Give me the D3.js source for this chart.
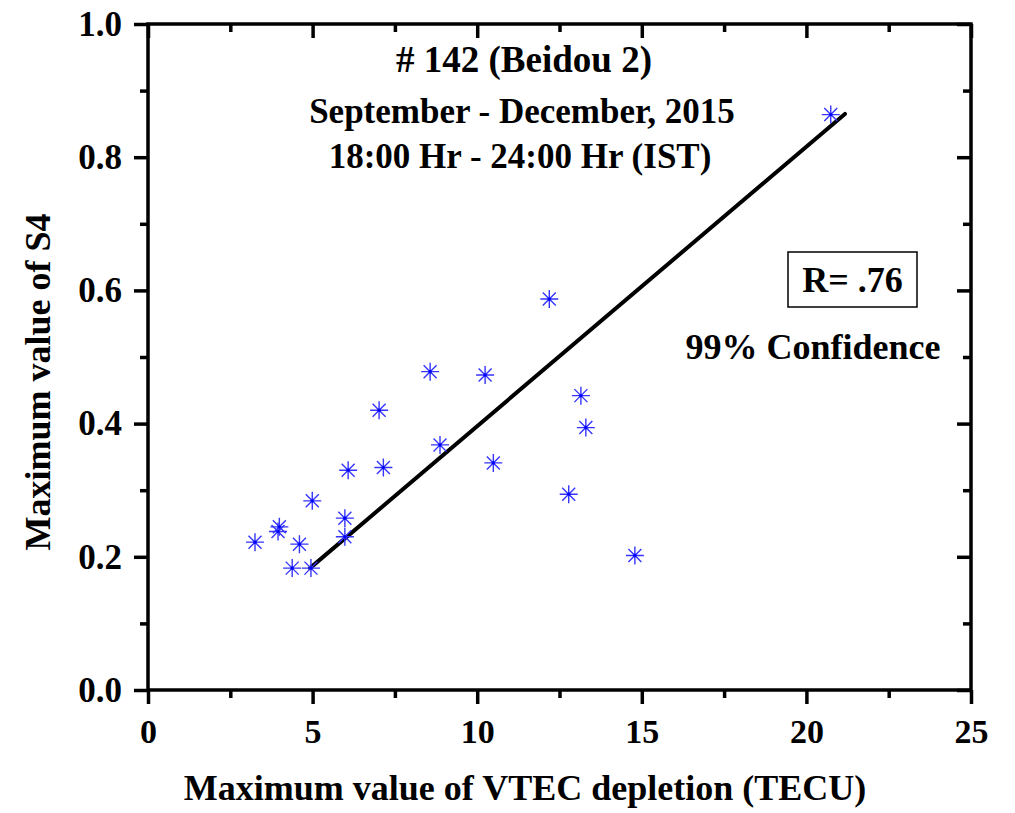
<!DOCTYPE html>
<html><head><meta charset="utf-8">
<script src="https://cdn.jsdelivr.net/npm/d3@7"></script>
<style>body{margin:0;background:#fff}svg{display:block}text{font-family:"Liberation Serif","Times New Roman",serif;font-weight:bold;fill:#000}</style>
</head><body>
<script>
const vtec = [3.25,3.99,3.95,4.60,4.38,4.95,4.99,5.98,5.98,6.08,7.02,7.15,8.57,8.87,10.24,10.49,12.19,12.78,13.15,13.30,14.79,20.74];
const s4   = [0.222,0.245,0.238,0.219,0.183,0.183,0.284,0.258,0.230,0.330,0.420,0.334,0.478,0.368,0.473,0.341,0.587,0.294,0.442,0.394,0.202,0.864];
const fitX = [4.92,21.17];
const fitY = [0.183,0.865];
const xTicks = [0,5,10,15,20,25];
const yTicks = [0.0,0.2,0.4,0.6,0.8,1.0];
const xMinor = [2.5,7.5,12.5,17.5,22.5];
const yMinor = [0.1,0.3,0.5,0.7,0.9];
const titleLines = ["# 142 (Beidou 2)","September - December, 2015","18:00 Hr - 24:00 Hr (IST)"];
const rLabel = "R= .76";
const confLabel = "99% Confidence";

const W=1015,H=813;
const svg=d3.select("body").append("svg").attr("width",W).attr("height",H);
const x=d3.scaleLinear().domain([0,25]).range([148,971]);
const y=d3.scaleLinear().domain([0,1]).range([690,24]);
const AW=3.5, MAJ=14, MIN=8;

function styleAxis(fs){ return g=>{
  g.select(".domain").remove();
  g.selectAll(".tick line").attr("stroke","#000").attr("stroke-width",AW);
  g.selectAll(".tick text").style("font-size",fs+"px");
};}
// bottom
svg.append("g").attr("transform","translate(0,690)").call(d3.axisBottom(x).tickValues(xTicks).tickSize(MAJ).tickPadding(15).tickFormat(d3.format("d"))).call(styleAxis(34));
svg.append("g").attr("transform","translate(0,690)").call(d3.axisBottom(x).tickValues(xMinor).tickSize(MIN).tickFormat("")).call(styleAxis(34));
// top (inward)
svg.append("g").attr("transform","translate(0,24)").call(d3.axisBottom(x).tickValues(xTicks).tickSize(MAJ).tickFormat("")).call(styleAxis(34));
svg.append("g").attr("transform","translate(0,24)").call(d3.axisBottom(x).tickValues(xMinor).tickSize(MIN).tickFormat("")).call(styleAxis(34));
// left
svg.append("g").attr("transform","translate(148,0)").call(d3.axisLeft(y).tickValues(yTicks).tickSize(MAJ).tickPadding(12).tickFormat(d3.format(".1f"))).call(styleAxis(35));
svg.append("g").attr("transform","translate(148,0)").call(d3.axisLeft(y).tickValues(yMinor).tickSize(MIN).tickFormat("")).call(styleAxis(35));
// right (inward)
svg.append("g").attr("transform","translate(971,0)").call(d3.axisLeft(y).tickValues(yTicks).tickSize(MAJ).tickFormat("")).call(styleAxis(35));
svg.append("g").attr("transform","translate(971,0)").call(d3.axisLeft(y).tickValues(yMinor).tickSize(MIN).tickFormat("")).call(styleAxis(35));
// frame
svg.append("rect").attr("x",x(0)).attr("y",y(1)).attr("width",x(25)-x(0)).attr("height",y(0)-y(1))
  .attr("fill","none").attr("stroke","#000").attr("stroke-width",AW);

// fit line
svg.append("line").attr("x1",x(fitX[0])).attr("y1",y(fitY[0])).attr("x2",x(fitX[1])).attr("y2",y(fitY[1]))
  .attr("stroke","#000").attr("stroke-width",4).attr("stroke-linecap","round");

// points (asterisks)
const S=9, D=6.5;
const pts=svg.append("g").attr("stroke","#3535ff").attr("stroke-width",1.4).attr("fill","none");
vtec.forEach((v,i)=>{
  const cx=x(v), cy=y(s4[i]);
  pts.append("path").attr("d",`M${cx},${cy-S}V${cy+S}M${cx-S},${cy}H${cx+S}M${cx-D},${cy-D}L${cx+D},${cy+D}M${cx-D},${cy+D}L${cx+D},${cy-D}`);
  svg.append("circle").attr("cx",cx).attr("cy",cy).attr("r",1.6).attr("fill","#0000ff");
});

// titles
const tl=[{t:titleLines[0],x:524,y:72,s:37},{t:titleLines[1],x:522,y:123,s:35},{t:titleLines[2],x:520,y:168,s:35}];
tl.forEach(d=>svg.append("text").attr("x",d.x).attr("y",d.y).attr("text-anchor","middle").style("font-size",d.s+"px").text(d.t));

// R box
svg.append("rect").attr("x",788).attr("y",252).attr("width",129).attr("height",55).attr("fill","#fff").attr("stroke","#000").attr("stroke-width",1.5);
svg.append("text").attr("x",852.5).attr("y",292).attr("text-anchor","middle").style("font-size","36px").text(rLabel);
svg.append("text").attr("x",813).attr("y",359).attr("text-anchor","middle").style("font-size","36px").text(confLabel);

// axis labels
svg.append("text").attr("x",525).attr("y",800).attr("text-anchor","middle").style("font-size","36px").text("Maximum value of VTEC depletion (TECU)");
svg.append("text").attr("transform","translate(50,382) rotate(-90)").attr("text-anchor","middle").style("font-size","36px").text("Maximum value of S4");
</script>
</body></html>
